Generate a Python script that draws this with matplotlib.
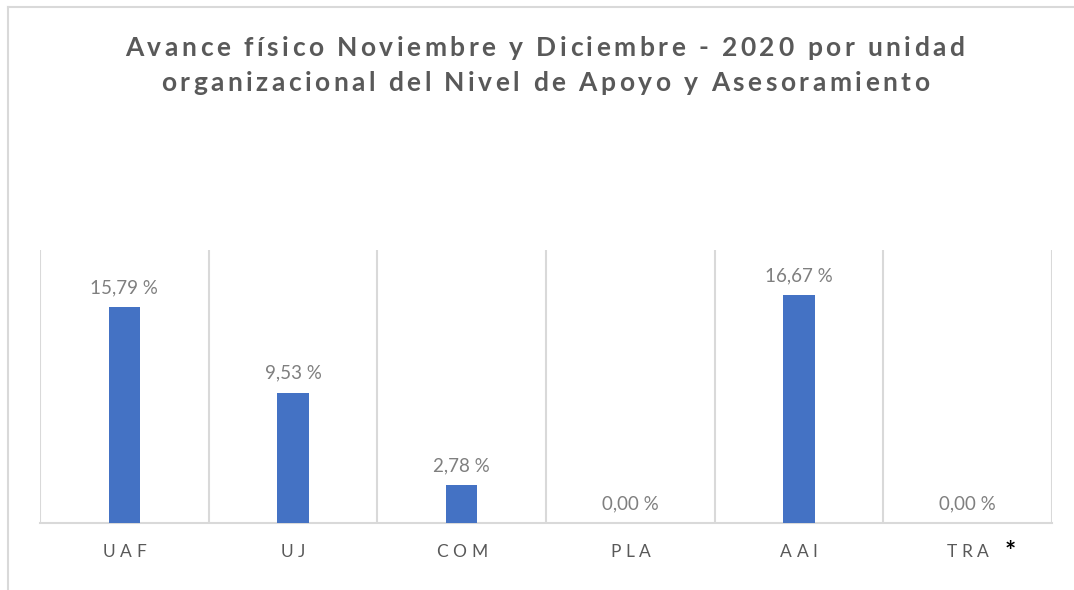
import matplotlib
matplotlib.use("Agg")
import matplotlib.pyplot as plt
from matplotlib.lines import Line2D

# data
units = ["UAF", "UJ", "COM", "PLA", "AAI", "TRA"]
avance = [15.79, 9.53, 2.78, 0.00, 16.67, 0.00]
title_lines = ["Avance físico Noviembre y Diciembre - 2020 por unidad",
               "organizacional del Nivel de Apoyo y Asesoramiento"]

W, H = 1074, 590
BAR = "#4472C4"
GRID = "#D9D9D9"
TXT = "#595959"
FONT = "Lato"

plt.rcParams["font.family"] = [FONT, "DejaVu Sans"]

fig = plt.figure(figsize=(W / 100, H / 100), dpi=100)
renderer = fig.canvas.get_renderer()


def spaced_text(cx, y, s, gap, **kw):
	# draw text with letter spacing, centred on cx (pixels), baseline y (pixels from top)
	t = fig.text(0, 0, "x", **kw)
	prop = t.get_fontproperties()
	t.remove()
	widths = [renderer.get_text_width_height_descent(c, prop, ismath=False)[0] for c in s]
	total = sum(widths) + gap * (len(s) - 1)
	x = cx - total / 2
	for c, w in zip(s, widths):
		fig.text(x / W, 1 - y / H, c, ha="left", va="baseline", **kw)
		x += w + gap


# outer chart frame (only top/left visible in the crop)
fig.add_artist(Line2D([8 / W, 8 / W], [0, 1 - 7 / H], color=GRID, lw=1.5, transform=fig.transFigure))
fig.add_artist(Line2D([8 / W, 1], [1 - 7 / H, 1 - 7 / H], color=GRID, lw=1.5, transform=fig.transFigure))

left, right, bottom, top = 40, 1052, 523, 250
ax = fig.add_axes([left / W, 1 - bottom / H, (right - left) / W, (bottom - top) / H])

x = list(range(len(units)))
ax.bar(x, avance, width=0.185, color=BAR, zorder=3)
ax.set_xlim(-0.5, len(units) - 0.5)
ax.set_ylim(0, 20)

for i in range(len(units) + 1):
	ax.axvline(i - 0.5, color=GRID, lw=1.5, zorder=1)

for s in ["top", "right", "left"]:
	ax.spines[s].set_visible(False)
ax.spines["bottom"].set_color(GRID)
ax.spines["bottom"].set_linewidth(1.5)
ax.set_xticks([])
ax.set_yticks([])

for xi, v in zip(x, avance):
	lbl = f"{v:.2f} %".replace(".", ",")
	ax.annotate(lbl, (xi, v), xytext=(0, 8), textcoords="offset points",
				ha="center", va="bottom", fontsize=13.5, color="#7F7F7F")

# category labels, letter-spaced
cat_w = (right - left) / len(units)
for i, u in enumerate(units):
	spaced_text(left + cat_w * (i + 0.5), 557, u, 4.5, fontsize=12.5, color=TXT)
fig.text(1010 / W, 1 - 552 / H, "*", ha="center", va="center", fontsize=19,
		 fontweight="bold", color="black")

spaced_text(545, 56, title_lines[0], 3.5, fontsize=19, fontweight="bold", color=TXT)
spaced_text(545, 91, title_lines[1], 3.5, fontsize=19, fontweight="bold", color=TXT)

fig.savefig("out.png", dpi=100)
